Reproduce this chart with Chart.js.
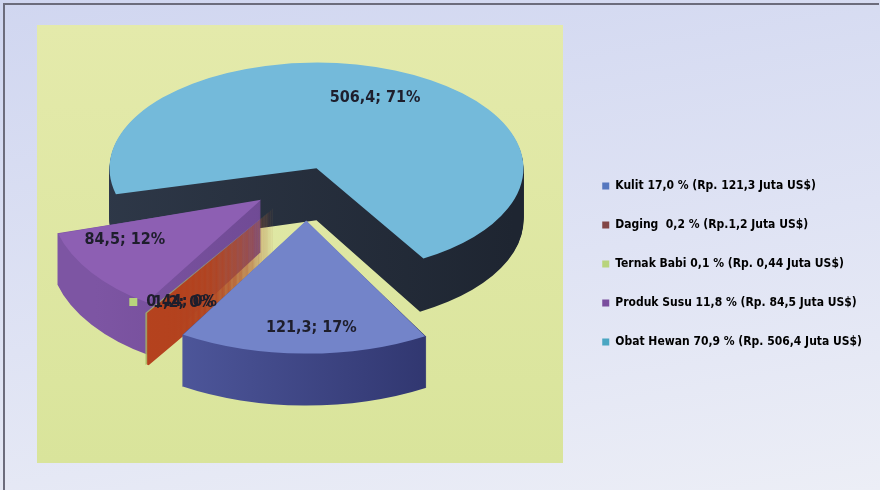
<!DOCTYPE html>
<html>
<head>
<meta charset="utf-8">
<script src="https://cdn.jsdelivr.net/npm/chart.js@4.4.0/dist/chart.umd.min.js"></script>
<style>
  html, body { margin: 0; padding: 0; }
  body {
    width: 880px; height: 490px; overflow: hidden;
    background: linear-gradient(170deg, #d0d6f0 0%, #dfe3f4 55%, #eceef6 100%);
  }
  #wrap { position: absolute; left: 0; top: 0; width: 880px; height: 490px; }
  #frame {
    position: absolute; left: 3px; top: 3px; width: 874px; height: 486px;
    border-left: 2px solid #6c6c7c; border-top: 2px solid #6c6c7c;
  }
</style>
</head>
<body>
<div id="frame"></div>
<div id="wrap"><canvas id="pieChart" width="880" height="490"></canvas></div>
<script>
// Data
const categories = ['Kulit', 'Daging', 'Ternak Babi', 'Produk Susu', 'Obat Hewan'];
const values = [121.3, 1.2, 0.44, 84.5, 506.4];
const legendLabels = [
  'Kulit 17,0 % (Rp. 121,3 Juta US$)',
  'Daging  0,2 % (Rp.1,2 Juta US$)',
  'Ternak Babi 0,1 % (Rp. 0,44 Juta US$)',
  'Produk Susu 11,8 % (Rp. 84,5 Juta US$)',
  'Obat Hewan 70,9 % (Rp. 506,4 Juta US$)'
];

// Styles
const FONT = "'Liberation Sans Narrow', 'DejaVu Sans Condensed', sans-serif";
const faceColors = ['#7384c9', '#c24a2a', '#c8dc7c', '#8d5fb3', '#74bada'];
const sideColors = [
  ['#5a64ad', '#23285c'],
  ['#b8441f', '#a53a1a'],
  ['#a9c266', '#94ad55'],
  ['#7d55a3', '#5c3a80'],
  ['#2e3848', '#1e2531']
];
const legendColors = ['#5677bf', '#824646', '#b8d47c', '#7a4e9e', '#4aa6c2'];
const offsets = [230, 248, 248, 216, 100];
const perspective = [[1.27, 1.38], [1, 1], [1, 1], [1.06, 1.2], [1, 1]];  // front slices look bigger
const labelFrac = [0.81, 0.75, 0.75, 0.78, 0.72];
const labelNudge = [[7, 0], [4, 16], [4, 16], [-4, -17], [2, 0]];

// Fake 3D: squash the pie and extrude it downwards
const SQUASH = 0.51, DEPTH = 52, PIE_CX = 307, PIE_CY = 180, RADIUS = 182;
const drawOrder = [4, 3, 2, 1, 0];

const total = values.reduce((a, b) => a + b, 0);
const dataLabels = values.map(v => String(v).replace('.', ',') + '; ' + Math.round(v / total * 100) + '%');

function applyView(ctx, arc, i) {
  const [kx, ky] = perspective[i];
  ctx.translate(PIE_CX, PIE_CY);
  ctx.scale(kx, ky * SQUASH);
  ctx.translate(-arc.x, -arc.y);
}

// shift and radius that ArcElement.draw gives a slice with options.offset
function geom(arc) {
  const o = (arc.options.offset || 0) / 4;
  const c = arc.endAngle - arc.startAngle;
  const fix = 1 - Math.sin(Math.min(Math.PI, c));
  const mid = (arc.startAngle + arc.endAngle) / 2;
  return { dx: Math.cos(mid) * o, dy: Math.sin(mid) * o, mid, r: arc.outerRadius + o * fix };
}

const plotBox = {
  id: 'plotBox',
  beforeDraw(chart) {
    const ctx = chart.ctx;
    const g = ctx.createLinearGradient(0, 25, 0, 463);
    g.addColorStop(0, '#e4eaab');
    g.addColorStop(1, '#d9e49b');
    ctx.save();
    ctx.fillStyle = g;
    ctx.fillRect(37, 25, 526, 438);
    ctx.restore();
  }
};

const pie3d = {
  id: 'pie3d',
  beforeDatasetsDraw(chart) {
    const ctx = chart.ctx;
    const arcs = chart.getDatasetMeta(0).data;

    // side walls
    drawOrder.forEach(i => {
      const arc = arcs[i];
      const s = geom(arc);
      const g = ctx.createLinearGradient(arc.x - s.r, 0, arc.x + s.r, 0);
      g.addColorStop(0, sideColors[i][0]);
      g.addColorStop(1, sideColors[i][1]);
      for (let k = DEPTH; k >= 1; k--) {
        ctx.save();
        ctx.translate(0, k);
        applyView(ctx, arc, i);
        ctx.beginPath();
        ctx.moveTo(arc.x + s.dx, arc.y + s.dy);
        ctx.arc(arc.x + s.dx, arc.y + s.dy, s.r, arc.startAngle, arc.endAngle);
        ctx.closePath();
        ctx.fillStyle = g;
        ctx.fill();
        ctx.restore();
      }
    });

    // top faces
    drawOrder.forEach(i => {
      ctx.save();
      applyView(ctx, arcs[i], i);
      arcs[i].draw(ctx);
      ctx.restore();
    });

    // data labels
    ctx.save();
    ctx.font = 'bold 16px ' + FONT;
    ctx.fillStyle = '#1e1e2c';
    ctx.textAlign = 'center';
    ctx.textBaseline = 'middle';
    arcs.forEach((arc, i) => {
      const s = geom(arc);
      const [kx, ky] = perspective[i];
      const r = s.r * labelFrac[i];
      const x = PIE_CX + kx * (s.dx + Math.cos(s.mid) * r) + labelNudge[i][0];
      const y = PIE_CY + ky * SQUASH * (s.dy + Math.sin(s.mid) * r) + labelNudge[i][1];
      ctx.fillText(dataLabels[i], x, y);
      // Ternak Babi label carries its legend key
      if (i === 2) {
        const w = ctx.measureText(dataLabels[i]).width;
        ctx.fillStyle = legendColors[i];
        ctx.fillRect(x - w / 2 - 17, y - 4, 8, 8);
        ctx.fillStyle = '#1e1e2c';
      }
    });
    ctx.restore();
    return false;
  }
};

new Chart(document.getElementById('pieChart'), {
  type: 'pie',
  data: {
    labels: categories,
    datasets: [{
      data: values,
      backgroundColor: faceColors,
      borderWidth: 0,
      offset: offsets,
      clip: false
    }]
  },
  options: {
    responsive: false,
    animation: false,
    rotation: 150,
    radius: RADIUS,
    layout: { padding: { top: 38, right: 8 } },
    plugins: {
      tooltip: { enabled: false },
      legend: {
        position: 'right',
        labels: {
          boxWidth: 7,
          boxHeight: 7,
          padding: 27,
          color: '#1f1f24',
          font: { family: FONT, size: 12, weight: 'bold' },
          generateLabels: () => legendLabels.map((t, i) => ({
            text: t, fillStyle: legendColors[i], strokeStyle: legendColors[i],
            lineWidth: 0, hidden: false, index: i
          }))
        }
      }
    }
  },
  plugins: [plotBox, pie3d]
});
</script>
</body>
</html>
